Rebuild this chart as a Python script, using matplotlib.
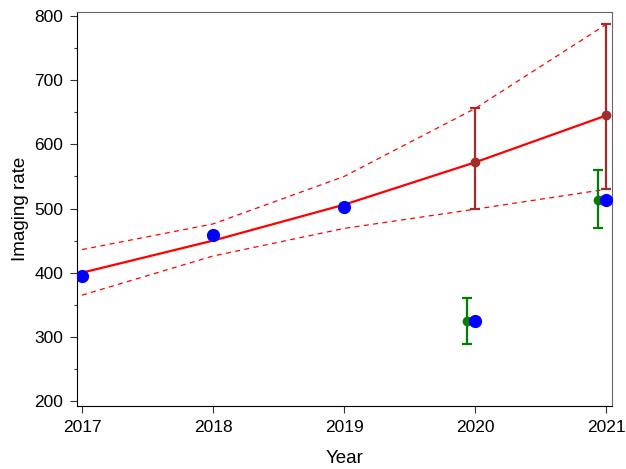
import numpy as np
import matplotlib
matplotlib.use('Agg')
import matplotlib.pyplot as plt
from matplotlib.ticker import MultipleLocator

plt.rcParams['font.family'] = ['Liberation Sans', 'DejaVu Sans']

# observed rates
years = [2017, 2018, 2019, 2020, 2021]
observed = [395, 459, 503, 324, 514]

# trend fit with its confidence band
fit = [400, 450, 506, 572, 645]
fit_upper = [436, 476, 550, 656, 787]
fit_lower = [365, 426, 469, 499, 530]

# projected values (brown) for the last two years
proj_years = [2020, 2021]
proj = [572, 645]
proj_lo = [499, 530]
proj_hi = [656, 787]

# alternative estimates (green), shifted a little left of the year
alt_years = [2019.94, 2020.94]
alt = [324, 513]
alt_lo = [289, 470]
alt_hi = [361, 560]

fig = plt.figure(figsize=(6.26, 4.69), dpi=100)
ax = fig.add_axes([0.123, 0.134, 0.855, 0.840])

ax.plot(years, fit_upper, color='#FF0000', lw=0.9, ls=(0, (4, 3.5)), zorder=2)
ax.plot(years, fit_lower, color='#FF0000', lw=0.9, ls=(0, (4, 3.5)), zorder=2)
ax.plot(years, fit, color='#FF0000', lw=1.6, zorder=3)

ax.errorbar(proj_years, proj,
            yerr=[np.subtract(proj, proj_lo), np.subtract(proj_hi, proj)],
            fmt='o', color='#A52A2A', ms=6, elinewidth=1.6, capsize=3.5,
            capthick=1.6, zorder=4)
ax.errorbar(alt_years, alt,
            yerr=[np.subtract(alt, alt_lo), np.subtract(alt_hi, alt)],
            fmt='o', color='#008000', ms=6, elinewidth=1.6, capsize=3.5,
            capthick=1.6, zorder=4)
ax.plot(years, observed, 'o', color='#0000FF', ms=8.5, zorder=5)

ax.set_xlim(2016.962, 2021.046)
ax.set_ylim(192, 806)
ax.set_xticks(years)
ax.yaxis.set_major_locator(MultipleLocator(100))
ax.yaxis.set_minor_locator(MultipleLocator(50))
ax.tick_params(axis='both', which='major', direction='out', length=5,
               width=0.8, labelsize=12.5, color='#333333', pad=5)
ax.tick_params(axis='y', which='minor', direction='out', length=2.5,
               width=0.8, color='#333333')

ax.spines['left'].set_color('black')
ax.spines['bottom'].set_color('black')
ax.spines['top'].set_color('#666666')
ax.spines['right'].set_color('#666666')

ax.set_xlabel('Year', fontsize=13.5, labelpad=11)
ax.set_ylabel('Imaging rate', fontsize=13.5, labelpad=4)

fig.savefig('out.png', dpi=100)
